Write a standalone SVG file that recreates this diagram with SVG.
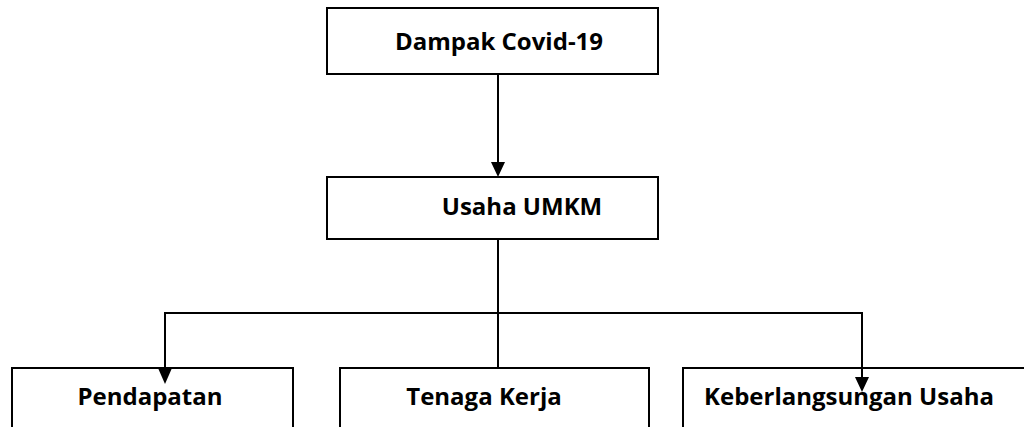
<svg xmlns="http://www.w3.org/2000/svg" width="1024" height="427" viewBox="0 0 1024 427">
<style>
.box{fill:#fff;stroke:#000;stroke-width:2}
.lbl{font-family:"Open Sans","Liberation Sans",sans-serif;font-weight:bold;font-size:24px;fill:#000}
.ln{stroke:#000;stroke-width:2;fill:none}
.ah{fill:#000}
</style>
<rect width="1024" height="427" fill="#fff"/>
<g id="n-dampak">
<rect class="box" x="327" y="8" width="331" height="66"/>
<text class="lbl" x="499" y="50" text-anchor="middle">Dampak Covid-19</text>
</g>
<g id="n-umkm">
<rect class="box" x="327" y="177" width="331" height="62"/>
<text class="lbl" x="522" y="215" text-anchor="middle">Usaha UMKM</text>
</g>
<g id="n-pendapatan">
<rect class="box" x="12" y="368" width="281" height="70"/>
<text class="lbl" x="150" y="405" text-anchor="middle">Pendapatan</text>
</g>
<g id="n-tenaga">
<rect class="box" x="340" y="368" width="309" height="70"/>
<text class="lbl" x="484" y="405" text-anchor="middle">Tenaga Kerja</text>
</g>
<g id="n-keberlangsungan">
<rect class="box" x="683" y="368" width="360" height="70"/>
<text class="lbl" x="849" y="405" text-anchor="middle">Keberlangsungan Usaha</text>
</g>
<g id="connectors">
<line class="ln" x1="498" y1="74" x2="498" y2="163"/>
<polygon class="ah" points="491,162 505,162 498,177"/>
<line class="ln" x1="498" y1="239" x2="498" y2="368"/>
<polyline class="ln" points="165,370 165,313 862,313 862,378"/>
<polygon class="ah" points="158,368 172,368 165,384"/>
<polygon class="ah" points="855,377 869,377 862,392"/>
</g>
</svg>
